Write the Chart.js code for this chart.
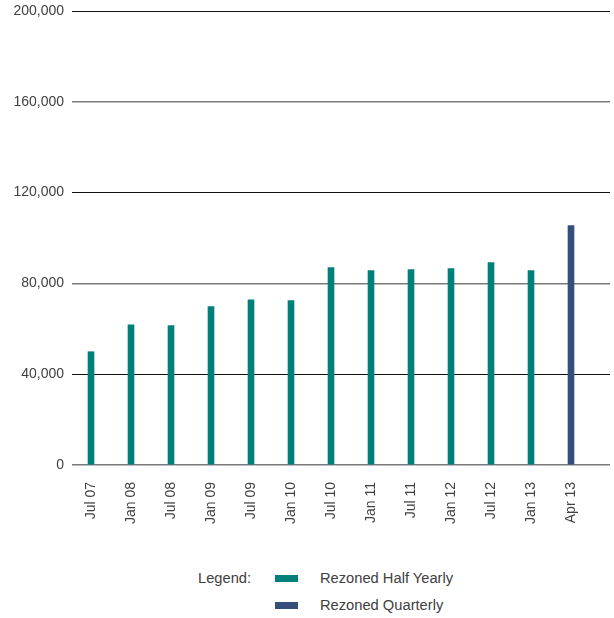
<!DOCTYPE html>
<html>
<head>
<meta charset="utf-8">
<script src="https://cdn.jsdelivr.net/npm/chart.js@4"></script>
<style>
    body { margin: 0; background: #fff; font-family: "Liberation Sans", Arial, sans-serif; }
    #wrap { position: relative; width: 614px; height: 618px; }
    #chart { position: absolute; left: 0; top: 0; }
    .lg { position: absolute; font-size: 14.7px; color: #404040; line-height: 16px; }
    .sw { position: absolute; width: 23px; height: 7px; }
</style>
</head>
<body>
<div id="wrap">
    <canvas id="chart" width="614" height="545"></canvas>
    <div class="lg" style="left:198px; top:570px;">Legend:</div>
    <div class="sw" style="left:275px; top:575px; background:#007F7B;"></div>
    <div class="lg" style="left:320px; top:570px;">Rezoned Half Yearly</div>
    <div class="sw" style="left:275px; top:602px; background:#34507A;"></div>
    <div class="lg" style="left:320px; top:597px;">Rezoned Quarterly</div>
</div>
<script>
const periods = ['Jul 07', 'Jan 08', 'Jul 08', 'Jan 09', 'Jul 09', 'Jan 10', 'Jul 10',
    'Jan 11', 'Jul 11', 'Jan 12', 'Jul 12', 'Jan 13', 'Apr 13'];
const halfYearly = [49900, 61800, 61400, 69800, 72800, 72400, 87000,
    85600, 86100, 86500, 89200, 85600, null];
const quarterly = [null, null, null, null, null, null, null,
    null, null, null, null, null, 105500];
const yTicks = [0, 40000, 80000, 120000, 160000, 200000];

const teal = '#007F7B';
const navy = '#34507A';

// bars sit on a linear x axis so the slot width can match the original
function toPoints(arr) {
    return arr.map((v, i) => ({ x: i, y: v })).filter(p => p.y !== null);
}

const ctx = document.getElementById('chart').getContext('2d');

new Chart(ctx, {
    type: 'bar',
    data: {
        datasets: [{
            label: 'Rezoned Half Yearly',
            data: toPoints(halfYearly),
            backgroundColor: teal,
            barThickness: 6,
            grouped: false
        }, {
            label: 'Rezoned Quarterly',
            data: toPoints(quarterly),
            backgroundColor: navy,
            barThickness: 6,
            grouped: false
        }]
    },
    options: {
        responsive: false,
        animation: false,
        layout: { padding: { top: 11, right: 4, left: 0, bottom: 0 } },
        plugins: {
            legend: { display: false },
            tooltip: { enabled: false }
        },
        scales: {
            x: {
                type: 'linear',
                offset: false,
                min: -0.475,
                max: 12.975,
                grid: { display: false },
                border: { display: false },
                afterBuildTicks: (scale) => {
                    scale.ticks = periods.map((p, i) => ({ value: i }));
                },
                afterFit: (scale) => {
                    scale.height = 80;
                    scale.paddingLeft = 0;
                    scale.paddingRight = 0;
                },
                ticks: {
                    autoSkip: false,
                    minRotation: 90,
                    maxRotation: 90,
                    padding: 9,
                    color: '#404040',
                    font: { family: '"Liberation Sans", Arial, sans-serif', size: 14 },
                    callback: (v) => periods[v]
                }
            },
            y: {
                min: 0,
                max: 200000,
                afterBuildTicks: (scale) => {
                    scale.ticks = yTicks.map(v => ({ value: v }));
                },
                afterFit: (scale) => {
                    scale.width = 72;
                    scale.paddingTop = 0;
                    scale.paddingBottom = 0;
                },
                border: { display: false },
                grid: {
                    drawTicks: false,
                    lineWidth: (c) => (c.tick.value / 40000) % 2 === 0 ? 1.5 : 1,
                    color: (c) => (c.tick.value / 40000) % 2 === 0 ? '#7a7a7a' : '#111'
                },
                ticks: {
                    padding: 8,
                    color: '#404040',
                    font: { family: '"Liberation Sans", Arial, sans-serif', size: 14 },
                    callback: (v) => v.toLocaleString('en-US')
                }
            }
        }
    }
});
</script>
</body>
</html>
